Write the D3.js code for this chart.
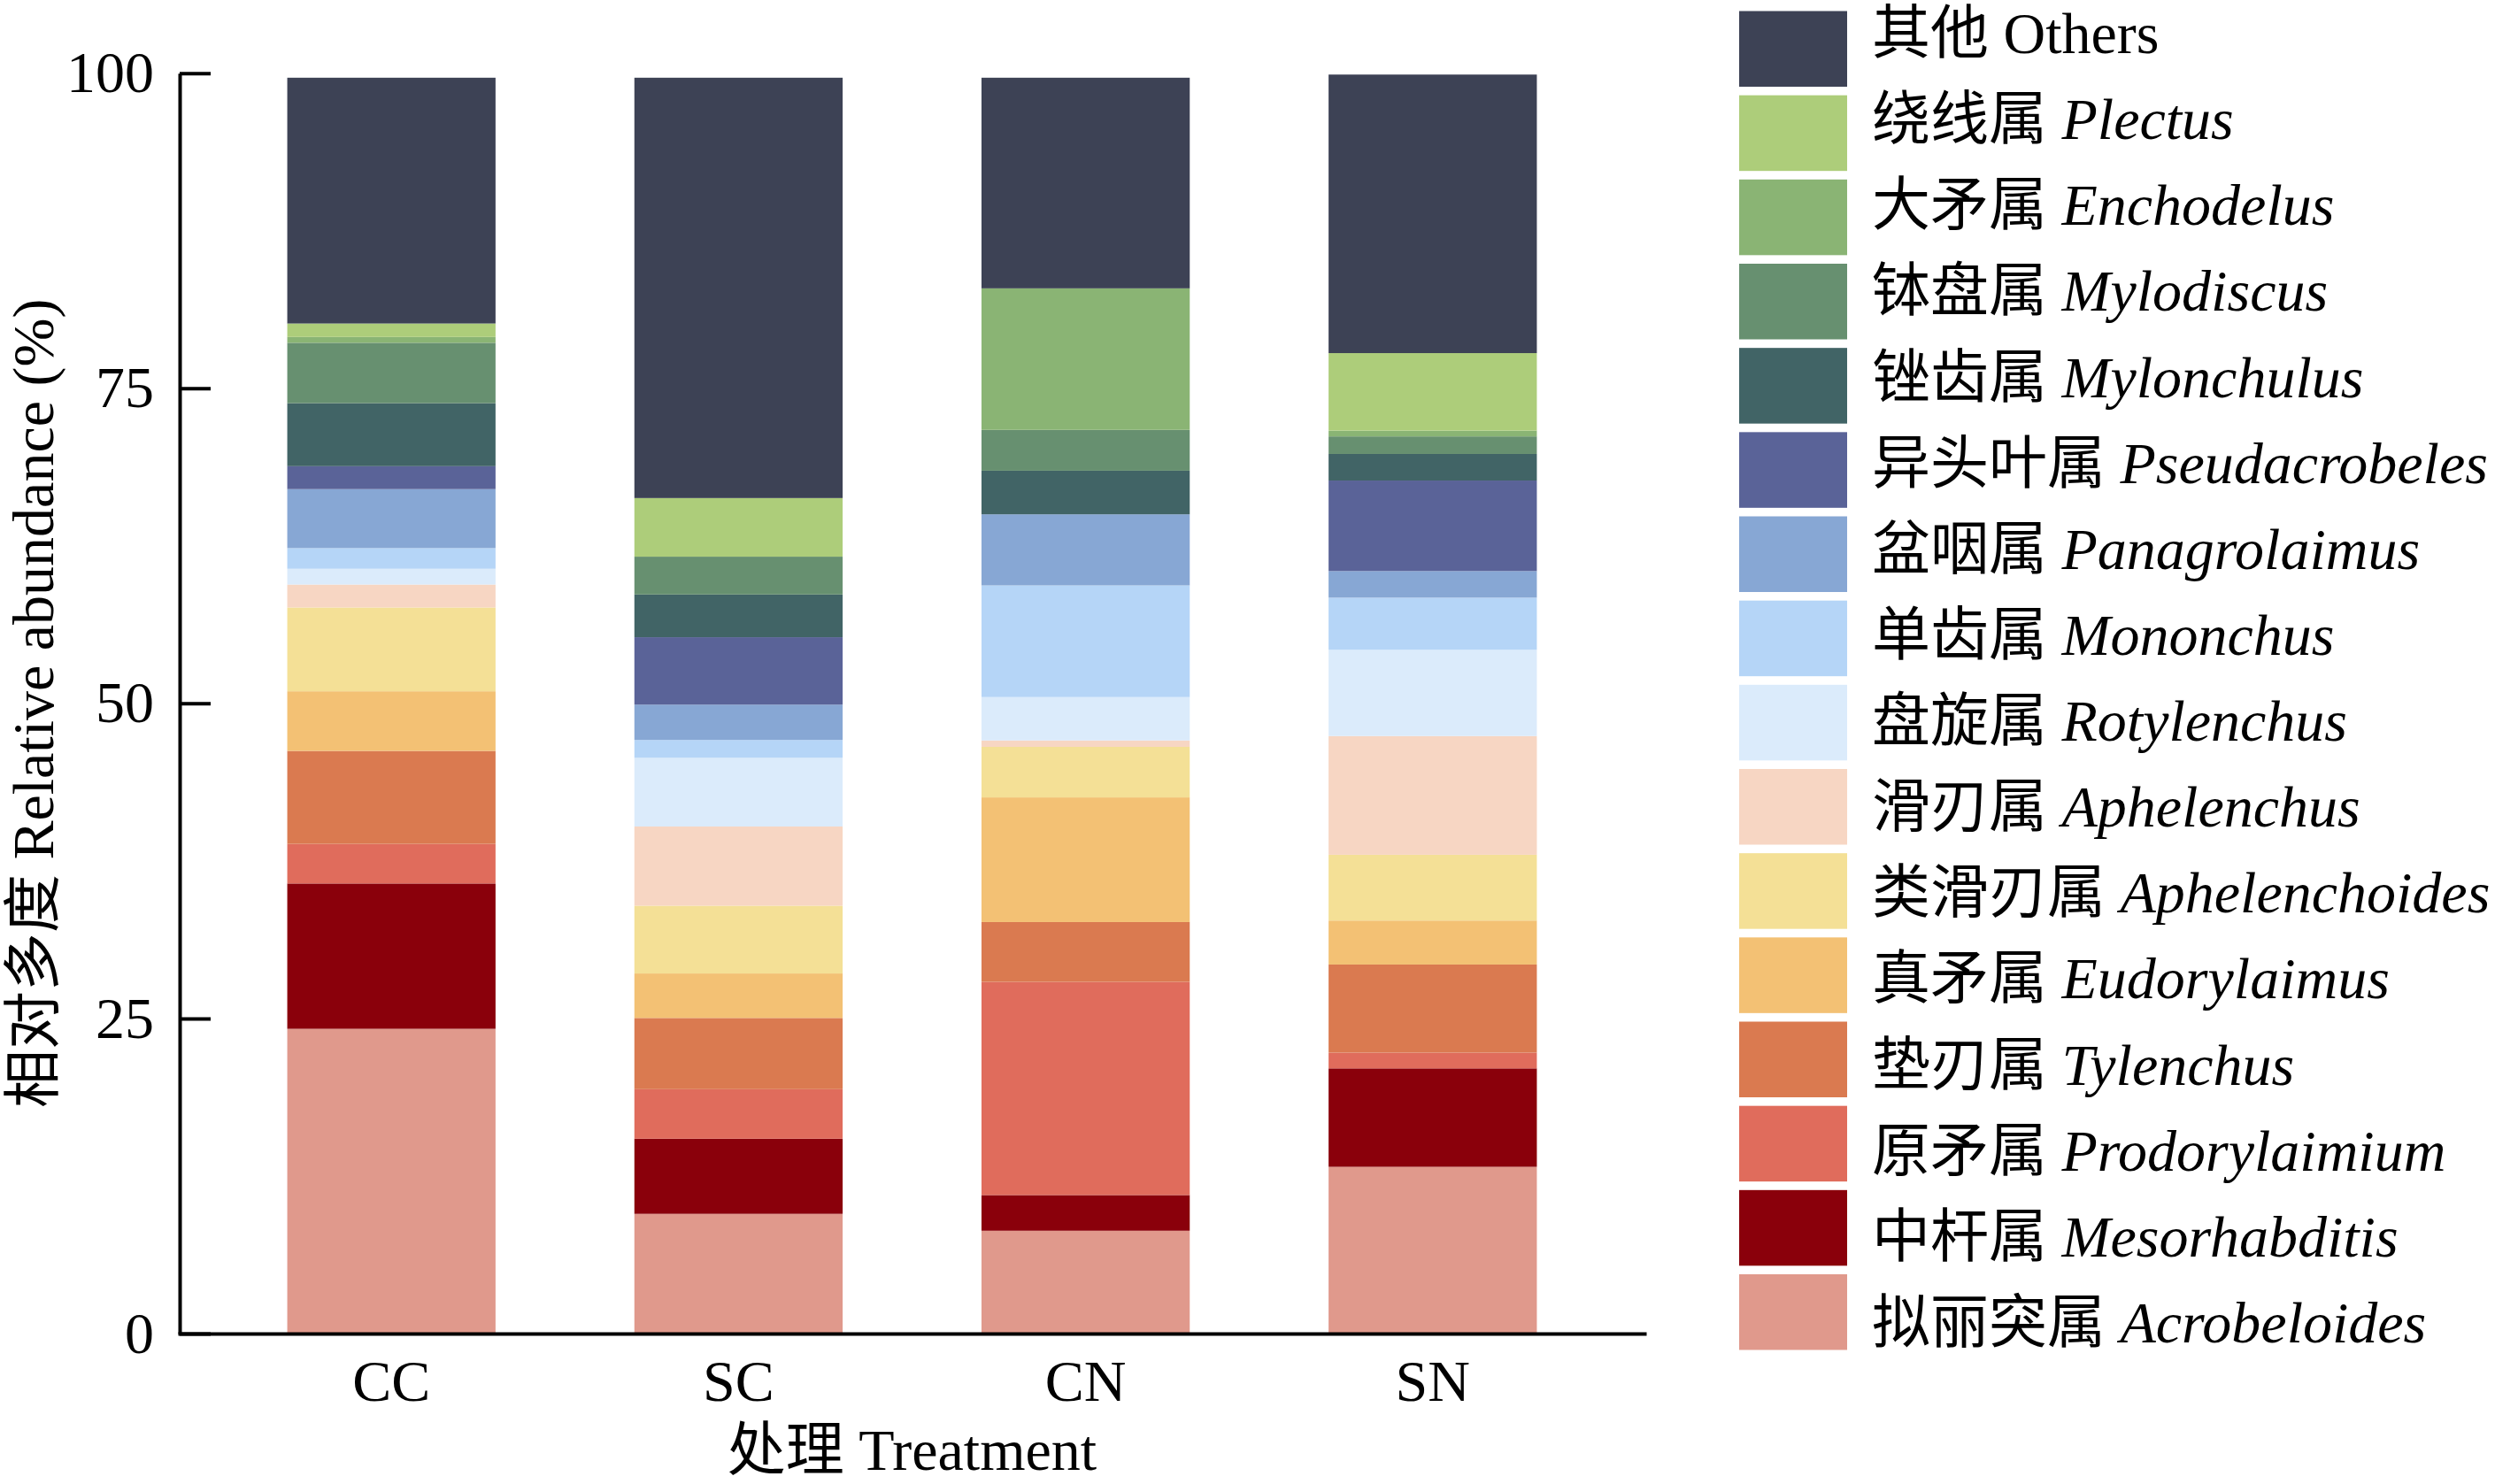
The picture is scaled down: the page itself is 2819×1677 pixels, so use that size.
<!DOCTYPE html>
<html>
<head>
<meta charset="utf-8">
<script src="https://cdn.jsdelivr.net/npm/d3@7"></script>
<style>
  body { margin: 0; background: #fff; }
  text { font-family: "Liberation Serif", "Times New Roman", "Noto Sans CJK SC", serif; }
</style>
</head>
<body>
<script>
// Treatments on the x axis
var treatments = ["CC", "SC", "CN", "SN"];

// Genera, listed from the bottom of the stack to the top
var generaCn = ["拟丽突属", "中杆属", "原矛属", "垫刃属", "真矛属", "类滑刃属", "滑刃属",
                "盘旋属", "单齿属", "盆咽属", "异头叶属", "锉齿属", "钵盘属", "大矛属", "绕线属", "其他"];
var generaLat = ["Acrobeloides", "Mesorhabditis", "Prodorylaimium", "Tylenchus", "Eudorylaimus",
                 "Aphelenchoides", "Aphelenchus", "Rotylenchus", "Mononchus", "Panagrolaimus",
                 "Pseudacrobeles", "Mylonchulus", "Mylodiscus", "Enchodelus", "Plectus", "Others"];
var colors = ["#e0998c", "#8a000b", "#e06c5c", "#da7a50", "#f3c174", "#f4e096", "#f7d6c3",
              "#dbebfb", "#b5d5f7", "#87a7d4", "#5a6398", "#416466", "#679070", "#8ab474",
              "#adcd7a", "#3d4255"];

// Relative abundance (%) per treatment: CC, SC, CN, SN
var acrobeloides   = [24.18, 9.50, 8.16, 13.23];
var mesorhabditis  = [11.53, 5.96, 2.83, 7.81];
var prodorylaimium = [3.14, 3.93, 16.91, 1.25];
var tylenchus      = [7.38, 5.65, 4.75, 6.99];
var eudorylaimus   = [4.73, 3.53, 9.89, 3.49];
var aphelenchoides = [6.65, 5.38, 4.01, 5.22];
var aphelenchus    = [1.82, 6.28, 0.51, 9.42];
var rotylenchus    = [1.25, 5.45, 3.44, 6.84];
var mononchus      = [1.64, 1.42, 8.86, 4.14];
var panagrolaimus  = [4.68, 2.80, 5.64, 2.11];
var pseudacrobeles = [1.82, 5.35, 0.00, 7.18];
var mylonchulus    = [5.00, 3.39, 3.46, 2.11];
var mylodiscus     = [4.79, 3.00, 3.24, 1.39];
var enchodelus     = [0.46, 0.00, 11.23, 0.46];
var plectus        = [1.07, 4.65, 0.00, 6.15];
var others         = [19.50, 33.35, 16.71, 22.10];

var yTicks = [0, 25, 50, 75, 100];

var series = [acrobeloides, mesorhabditis, prodorylaimium, tylenchus, eudorylaimus,
              aphelenchoides, aphelenchus, rotylenchus, mononchus, panagrolaimus,
              pseudacrobeles, mylonchulus, mylodiscus, enchodelus, plectus, others];

// Table for d3.stack
var table = treatments.map(function(t, i) {
  var row = {treatment: t};
  generaLat.forEach(function(g, j) { row[g] = series[j][i]; });
  return row;
});

// Plot box (window.top is read-only, so avoid plain "top")
var W = 2819, H = 1677,
    plotLeft = 203, plotRight = 1858, plotTop = 82.7, plotBottom = 1507,
    fontSize = 66;

var svg = d3.select("body")
            .append("svg")
            .attr("width", W)
            .attr("height", H);

var x = d3.scaleBand()
          .domain(treatments)
          .range([plotLeft, plotRight])
          .paddingInner(0.4)
          .paddingOuter(0.31);

var y = d3.scaleLinear()
          .domain([0, 100])
          .range([plotBottom, plotTop]);

var color = d3.scaleOrdinal().domain(generaLat).range(colors);

var stacked = d3.stack().keys(generaLat)(table);

// Bars
svg.append("g")
   .selectAll("g")
   .data(stacked)
   .join("g")
   .attr("fill", function(d) { return color(d.key); })
   .selectAll("rect")
   .data(function(d) { return d; })
   .join("rect")
   .attr("x", function(d) { return x(d.data.treatment); })
   .attr("width", x.bandwidth())
   .attr("y", function(d) { return y(d[1]); })
   .attr("height", function(d) { return y(d[0]) - y(d[1]); });

// Y axis, ticks pointing inward
var yAxis = svg.append("g")
               .attr("transform", "translate(" + plotLeft + ",0)")
               .call(d3.axisLeft(y).tickValues(yTicks).tickSizeInner(-35).tickSizeOuter(0).tickPadding(29));

// X axis, no ticks
var xAxis = svg.append("g")
               .attr("transform", "translate(0," + plotBottom + ")")
               .call(d3.axisBottom(x).tickSize(0).tickPadding(29));

[yAxis, xAxis].forEach(function(a) {
  a.selectAll("path, line").attr("stroke", "#000").attr("stroke-width", 4);
  a.selectAll("text").attr("font-size", fontSize).attr("fill", "#000")
   .style("font-family", '"Liberation Serif", "Times New Roman", serif');
});
xAxis.select(".domain").attr("stroke-linecap", "square");

// Axis titles
svg.append("text")
   .attr("x", (plotLeft + plotRight) / 2)
   .attr("y", 1661)
   .attr("text-anchor", "middle")
   .attr("font-size", fontSize)
   .text("处理 Treatment");

svg.append("text")
   .attr("transform", "translate(60," + ((plotTop + plotBottom) / 2) + ") rotate(-90)")
   .attr("text-anchor", "middle")
   .attr("font-size", fontSize)
   .text("相对多度 Relative abundance (%)");

// Legend, top row is the top of the stack
var order = d3.range(generaLat.length).reverse();
var swatchY = d3.scaleLinear().domain([0, 15]).range([12.5, 1440]);
var labelY = d3.scaleLinear().domain([0, 15]).range([60, 1517]);

var legend = svg.append("g");

legend.selectAll("rect")
      .data(order)
      .join("rect")
      .attr("x", 1965)
      .attr("y", function(d, i) { return swatchY(i); })
      .attr("width", 122)
      .attr("height", 85.5)
      .attr("fill", function(d) { return colors[d]; });

var labels = legend.selectAll("text")
      .data(order)
      .join("text")
      .attr("x", 2115)
      .attr("y", function(d, i) { return labelY(i); })
      .attr("font-size", fontSize);

labels.append("tspan").text(function(d) { return generaCn[d] + " "; });
labels.append("tspan")
      .attr("font-style", function(d) { return generaLat[d] === "Others" ? "normal" : "italic"; })
      .text(function(d) { return generaLat[d]; });
</script>
</body>
</html>
